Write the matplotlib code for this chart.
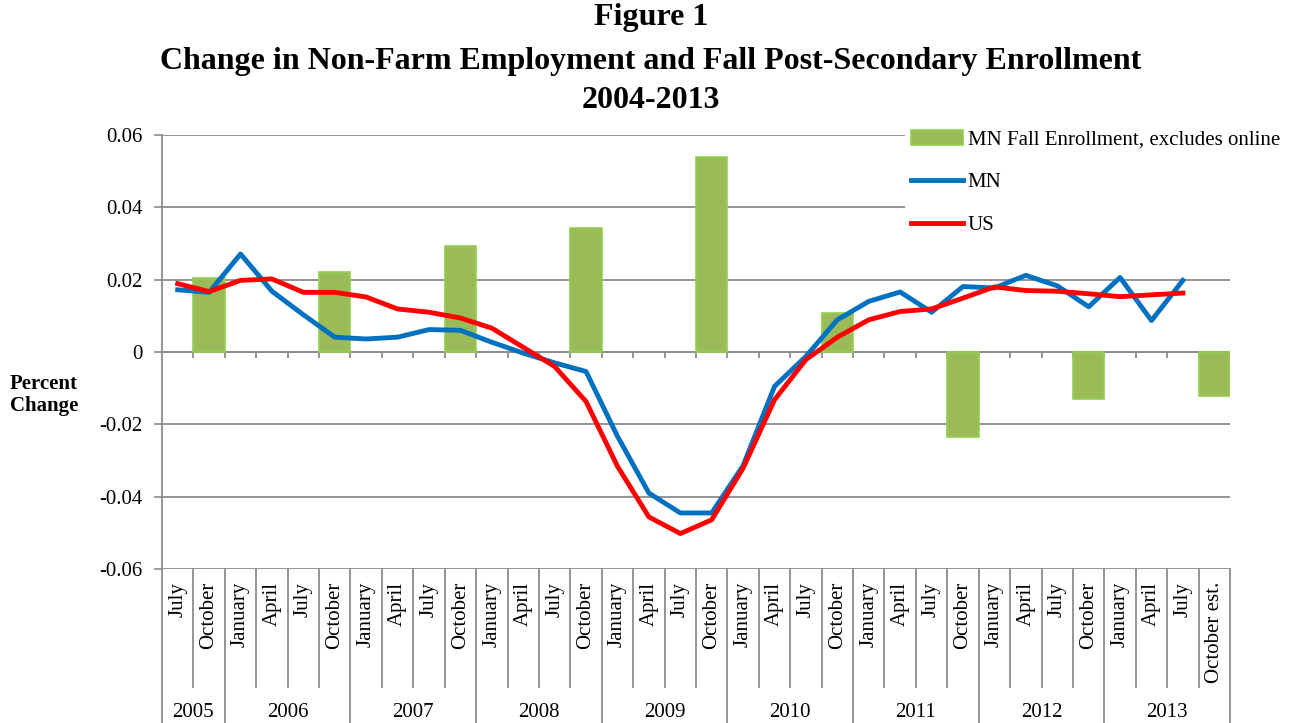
import numpy as np
import matplotlib.pyplot as plt

plt.rcParams["font.family"] = ["Liberation Serif", "DejaVu Serif"]

# categories along the horizontal axis
months = (["July", "October"]
          + ["January", "April", "July", "October"] * 7
          + ["January", "April", "July", "October est."])
years = ["2005", "2006", "2007", "2008", "2009", "2010", "2011", "2012", "2013"]
year_counts = [2, 4, 4, 4, 4, 4, 4, 4, 4]

nan = np.nan
# fall enrollment change, only October has a value
enrollment = [nan, 0.0205,
              nan, nan, nan, 0.0221,
              nan, nan, nan, 0.0293,
              nan, nan, nan, 0.0343,
              nan, nan, nan, 0.0538,
              nan, nan, nan, 0.0108,
              nan, nan, nan, -0.0236,
              nan, nan, nan, -0.0129,
              nan, nan, nan, -0.0123]

# non-farm employment change (ends at July 2013)
mn = [0.0172, 0.0165,
      0.0271, 0.0168, 0.0103, 0.0041,
      0.0036, 0.0041, 0.0062, 0.0060,
      0.0027, -0.0003, -0.0030, -0.0054,
      -0.0233, -0.0390, -0.0445, -0.0445,
      -0.0314, -0.0095, -0.0012, 0.0089,
      0.0140, 0.0166, 0.0110, 0.0181,
      0.0177, 0.0212, 0.0183, 0.0125,
      0.0206, 0.0087, 0.0198]
us = [0.0189, 0.0167,
      0.0198, 0.0202, 0.0165, 0.0165,
      0.0152, 0.0119, 0.0110, 0.0094,
      0.0066, 0.0013, -0.0040, -0.0137,
      -0.0316, -0.0456, -0.0502, -0.0464,
      -0.0321, -0.0132, -0.0021, 0.0041,
      0.0089, 0.0112, 0.0119, 0.0149,
      0.0180, 0.0170, 0.0168, 0.0161,
      0.0153, 0.0158, 0.0163]

grid_col = "#8c8c8c"
fs = 15

fig = plt.figure(figsize=(13.02, 7.23), dpi=100)
ax = fig.add_axes([162 / 1302, 1 - 569 / 723, 1068 / 1302, 434 / 723])

n = len(months)
x = np.arange(n)

bars = ax.bar(x, enrollment, width=1.0, color="#9BBB59", edgecolor="#92D050",
              linewidth=1.2, label="MN Fall Enrollment, excludes online", zorder=2)
ln_mn, = ax.plot(x[:len(mn)], mn, color="#0070C0", lw=3.5, label="MN", zorder=3)
ln_us, = ax.plot(x[:len(us)], us, color="#FF0000", lw=3.5, label="US", zorder=4)

ax.set_xlim(-0.5, n - 0.5)
ax.set_ylim(-0.06, 0.06)
yt = np.arange(-0.06, 0.061, 0.02)
ax.set_yticks(yt)
ax.set_yticklabels(["0" if abs(v) < 1e-9 else f"{v:.2f}" for v in yt], fontsize=fs)
ax.tick_params(axis="y", length=6, width=1.2, color=grid_col, pad=8)
ax.set_xticks([])
ax.yaxis.grid(True, color=grid_col, lw=1.3, zorder=0)
ax.set_axisbelow(True)
for s in ["top", "right", "bottom"]:
    ax.spines[s].set_visible(False)
ax.spines["left"].set_color(grid_col)
ax.spines["left"].set_linewidth(1.3)

# horizontal axis at zero with tick marks at category boundaries
ax.axhline(0, color=grid_col, lw=1.3, zorder=1)
bounds = np.arange(n + 1) - 0.5
ax.vlines(bounds[1:], -0.0016, 0, color=grid_col, lw=1.3, zorder=1)

# label table under the plot
tr = ax.get_xaxis_transform()
year_edges = np.concatenate([[0], np.cumsum(year_counts)]) - 0.5
for b in bounds:
    full = np.any(np.isclose(b, year_edges))
    ax.plot([b, b], [0, -0.355 if full else -0.272], transform=tr,
            color=grid_col, lw=1.3, clip_on=False)
for i, m in enumerate(months):
    ax.text(i, -0.03, m, transform=tr, rotation=90, ha="center", va="top",
            fontsize=fs)
for k, yr in enumerate(years):
    mid = (year_edges[k] + year_edges[k + 1]) / 2
    ax.text(mid, -0.33, yr, transform=tr, ha="center", va="center", fontsize=fs)

fig.text(0.5, 1 - 18 / 723, "Figure 1", ha="center", va="center",
         fontsize=23, fontweight="bold")
fig.text(0.5, 1 - 62 / 723,
         "Change in Non-Farm Employment and Fall Post-Secondary Enrollment",
         ha="center", va="center", fontsize=23, fontweight="bold")
fig.text(0.5, 1 - 100 / 723, "2004-2013", ha="center", va="center",
         fontsize=23, fontweight="bold")
fig.text(10 / 1302, 1 - 395 / 723, "Percent\nChange", ha="left", va="center",
         fontsize=fs, fontweight="bold", linespacing=1.15)

leg = ax.legend([bars, ln_mn, ln_us],
                ["MN Fall Enrollment, excludes online", "MN", "US"],
                loc="upper left", bbox_to_anchor=(905 / 1302, 1 - 124 / 723),
                bbox_transform=fig.transFigure, fontsize=fs, frameon=True,
                fancybox=False, edgecolor="none", facecolor="white", framealpha=1,
                handlelength=2.5, handletextpad=0.2, labelspacing=1.1,
                borderpad=0.3, borderaxespad=0)
leg.set_zorder(10)

fig.savefig("out.png", dpi=100)
